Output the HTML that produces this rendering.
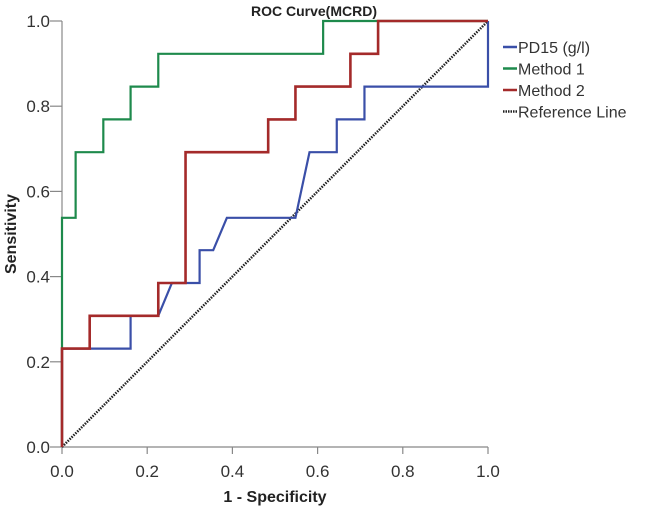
<!DOCTYPE html>
<html><head><meta charset="utf-8"><style>
html,body{margin:0;padding:0;background:#fff;width:645px;height:509px;overflow:hidden}
svg{display:block;font-family:"Liberation Sans",sans-serif}
</style></head><body>
<svg id="chart" width="645" height="509" viewBox="0 0 645 509">
<text x="314" y="16" text-anchor="middle" font-size="14" font-weight="bold" fill="#222">ROC Curve(MCRD)</text>
<text transform="translate(16,234) rotate(-90)" text-anchor="middle" font-size="16" font-weight="bold" fill="#222">Sensitivity</text>
<text x="275" y="502" text-anchor="middle" font-size="16" font-weight="bold" fill="#222">1 - Specificity</text>
<g id="axes"></g>
<g id="series"></g>
<g id="legend"></g>
</svg>
<script>
const xTicks = [0, 0.2, 0.4, 0.6, 0.8, 1.0];
const yTicks = [0, 0.2, 0.4, 0.6, 0.8, 1.0];
const seriesNames = ["PD15 (g/l)", "Method 1", "Method 2"];
const pd15X = [0,0,0.161,0.161,0.226,0.258,0.323,0.323,0.355,0.387,0.548,0.581,0.645,0.645,0.710,0.710,1,1];
const pd15Y = [0,0.231,0.231,0.308,0.308,0.385,0.385,0.462,0.462,0.538,0.538,0.692,0.692,0.769,0.769,0.846,0.846,1];
const m1X = [0,0,0.032,0.032,0.097,0.097,0.161,0.161,0.226,0.226,0.613,0.613,1];
const m1Y = [0,0.538,0.538,0.692,0.692,0.769,0.769,0.846,0.846,0.923,0.923,1,1];
const m2X = [0,0,0.065,0.065,0.226,0.226,0.290,0.290,0.484,0.484,0.548,0.548,0.677,0.677,0.742,0.742,1];
const m2Y = [0,0.231,0.231,0.308,0.308,0.385,0.385,0.692,0.692,0.769,0.769,0.846,0.846,0.923,0.923,1,1];
const refX = [0,1];
const refY = [0,1];

const NS = "http://www.w3.org/2000/svg";
const X0 = 62, X1 = 488, Y0 = 447, Y1 = 21;
const sx = v => X0 + v * (X1 - X0);
const sy = v => Y0 - v * (Y0 - Y1);
function mk(tag, attrs, parent) {
  const e = document.createElementNS(NS, tag);
  for (const k in attrs) e.setAttribute(k, attrs[k]);
  parent.appendChild(e);
  return e;
}
const axes = document.getElementById("axes");
let e = mk("line", {x1: X0, y1: Y0, x2: X1, y2: Y0, stroke: "#888", "stroke-width": 1.2}, axes);


e = mk("line", {x1: X0, y1: Y0, x2: X0, y2: Y1, stroke: "#888", "stroke-width": 1.2}, axes);


xTicks.forEach(t => {
  const l = mk("line", {x1: sx(t), y1: Y0, x2: sx(t), y2: Y0 + 7, stroke: "#888", "stroke-width": 1.2}, axes);
  
  
  const tx = mk("text", {x: sx(t), y: Y0 + 30, "text-anchor": "middle", "font-size": 17, fill: "#333"}, axes);
  tx.textContent = t.toFixed(1);
  
  
});
yTicks.forEach(t => {
  const l = mk("line", {x1: X0 - 12, y1: sy(t), x2: X0, y2: sy(t), stroke: "#888", "stroke-width": 1.2}, axes);
  
  
  const tx = mk("text", {x: X0 - 12, y: sy(t) + 6, "text-anchor": "end", "font-size": 17, fill: "#333"}, axes);
  tx.textContent = t.toFixed(1);
  
  
});
const ser = document.getElementById("series");
function pts(xs, ys) { return xs.map((x, i) => sx(x) + "," + sy(ys[i])).join(" "); }
e = mk("polyline", {points: pts(refX, refY), fill: "none", stroke: "#222", "stroke-width": 2.5, "stroke-dasharray": "1.5 1.2"}, ser);


e = mk("polyline", {points: pts(pd15X, pd15Y), fill: "none", stroke: "#3a4fa8", "stroke-width": 2.2}, ser);


e = mk("polyline", {points: pts(m1X, m1Y), fill: "none", stroke: "#1e8a4c", "stroke-width": 2.2}, ser);


e = mk("polyline", {points: pts(m2X, m2Y), fill: "none", stroke: "#a42a2a", "stroke-width": 2.6}, ser);



const leg = document.getElementById("legend");
const legColors = ["#3a4fa8", "#1e8a4c", "#a42a2a", "#222"];
const legLabels = seriesNames.concat(["Reference Line"]);
legLabels.forEach((lab, i) => {
  const y = 53 + i * 21.5;
  const ln = mk("line", {x1: 503, y1: y - 6, x2: 517, y2: y - 6, stroke: legColors[i], "stroke-width": 2.5}, leg);
  if (i === 3) ln.setAttribute("stroke-dasharray", "1.5 1");
  
  
  const tx = mk("text", {x: 518, y: y, "font-size": 16, fill: "#333"}, leg);
  tx.textContent = lab;
  
  
});
</script>
</body></html>
